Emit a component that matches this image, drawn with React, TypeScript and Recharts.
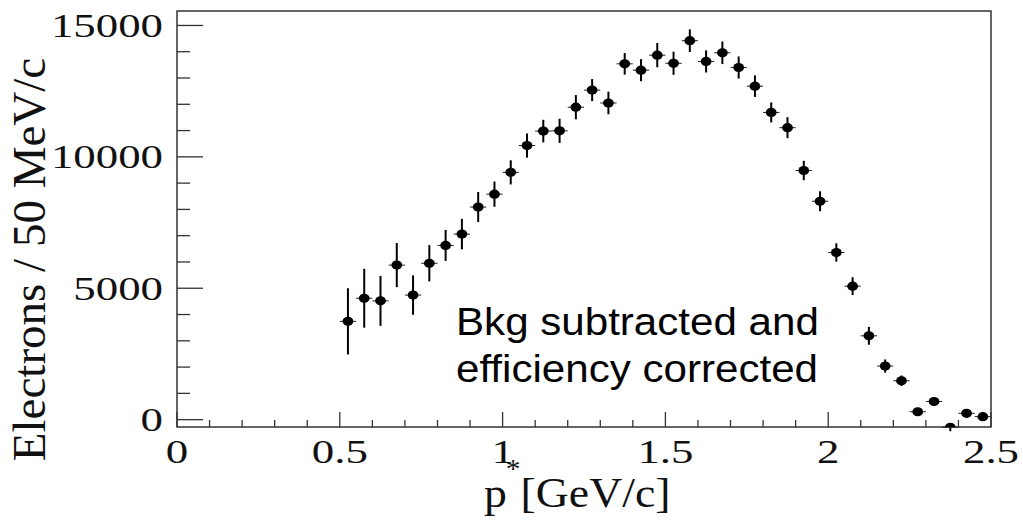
import { ScatterChart, Scatter, XAxis, YAxis, ErrorBar, ReferenceArea } from 'recharts';

// bin centres of p* (GeV/c), 50 MeV bins
const pCenters = [
  0.525, 0.575, 0.625, 0.675, 0.725, 0.775, 0.825, 0.875, 0.925, 0.975,
  1.025, 1.075, 1.125, 1.175, 1.225, 1.275, 1.325, 1.375, 1.425, 1.475,
  1.525, 1.575, 1.625, 1.675, 1.725, 1.775, 1.825, 1.875, 1.925, 1.975,
  2.025, 2.075, 2.125, 2.175, 2.225, 2.275, 2.325, 2.375, 2.425, 2.475,
];

const electrons = [
  3740, 4620, 4520, 5880, 4740, 5950, 6630, 7060, 8090, 8580,
  9410, 10430, 10980, 10990, 11890, 12540, 12050, 13540, 13300, 13870,
  13560, 14420, 13630, 13960, 13400, 12690, 11690, 11110, 9480, 8310,
  6360, 5080, 3190, 2040, 1480, 300, 690, -290, 240, 114,
];

const electronErrors = [
  1260, 1120, 950, 840, 750, 690, 590, 580, 570, 480,
  460, 460, 430, 460, 460, 420, 430, 410, 420, 460,
  440, 430, 420, 430, 420, 410, 380, 400, 370, 380,
  350, 340, 340, 250, 200, 150, 150, 150, 150, 150,
];

const binHalfWidth = 0.025;

const xTicks = [
  0, 0.1, 0.2, 0.3, 0.4, 0.5, 0.6, 0.7, 0.8, 0.9, 1, 1.1, 1.2, 1.3,
  1.4, 1.5, 1.6, 1.7, 1.8, 1.9, 2, 2.1, 2.2, 2.3, 2.4, 2.5,
];
const xMajor = [0, 0.5, 1, 1.5, 2, 2.5];

const yTicks = [
  0, 1000, 2000, 3000, 4000, 5000, 6000, 7000, 8000, 9000, 10000,
  11000, 12000, 13000, 14000, 15000,
];
const yMajor = [0, 5000, 10000, 15000];

const rows = pCenters.map((p, i) => ({
  p,
  n: electrons[i],
  ey: electronErrors[i],
  ex: binHalfWidth,
}));

const serif = 'Liberation Serif, Times New Roman, DejaVu Serif, serif';
const sans = 'Liberation Sans, Arial, sans-serif';
const frameColor = '#333';

const isMajor = (v: number, list: number[]) => list.some((m) => Math.abs(m - v) < 1e-6);

function XTick({ x, y, payload }: any) {
  const major = isMajor(payload.value, xMajor);
  return (
    <g>
      <line x1={x} x2={x} y1={y} y2={y - (major ? 15 : 7)} stroke={frameColor} strokeWidth={1.3} />
      {major && (
        <text
          transform={`translate(${x},${y + 35.5}) scale(1.3,1)`}
          textAnchor="middle"
          style={{ fontFamily: serif }}
          fontSize={34.5}
          fill="#111"
        >
          {payload.value}
        </text>
      )}
    </g>
  );
}

function YTick({ x, y, payload }: any) {
  const major = isMajor(payload.value, yMajor);
  return (
    <g>
      <line x1={x} x2={x + (major ? 26 : 13)} y1={y} y2={y} stroke={frameColor} strokeWidth={1.3} />
      {major && (
        <text
          transform={`translate(${x - 14},${y + 11.6}) scale(1.3,1)`}
          textAnchor="end"
          style={{ fontFamily: serif }}
          fontSize={34.5}
          fill="#111"
        >
          {payload.value}
        </text>
      )}
    </g>
  );
}

const Dot = (props: any) => (
  <ellipse cx={props.cx} cy={props.cy} rx={5.4} ry={4.6} fill="#000" />
);

export default function App() {
  return (
    <div style={{ position: 'absolute', left: 0, top: 0, width: 1023, height: 523, background: '#fff' }}>
      <ScatterChart width={1023} height={523} margin={{ top: 11, right: 32, bottom: 0, left: 0 }}>
        <XAxis
          type="number"
          dataKey="p"
          domain={[0, 2.5]}
          ticks={xTicks}
          interval={0}
          height={96}
          axisLine={false}
          tickLine={false}
          tickSize={0}
          tickMargin={0}
          tick={<XTick />}
          allowDataOverflow
        />
        <YAxis
          type="number"
          dataKey="n"
          domain={[-280, 15550]}
          ticks={yTicks}
          interval={0}
          width={177}
          axisLine={false}
          tickLine={false}
          tickSize={0}
          tickMargin={0}
          tick={<YTick />}
          allowDataOverflow
        />
        <ReferenceArea
          x1={0}
          x2={2.5}
          y1={-280}
          y2={15550}
          fill="none"
          fillOpacity={0}
          stroke={frameColor}
          strokeWidth={1.5}
          ifOverflow="visible"
        />
        <Scatter data={rows} shape={Dot} isAnimationActive={false}>
          <ErrorBar dataKey="ey" direction="y" width={0} stroke="#000" strokeWidth={2} />
          <ErrorBar dataKey="ex" direction="x" width={0} stroke="#222" strokeWidth={1} />
        </Scatter>
      </ScatterChart>

      <svg
        width={1023}
        height={523}
        style={{ position: 'absolute', left: 0, top: 0, pointerEvents: 'none' }}
      >
        {/* y title */}
        <text
          transform="translate(45,259.5) rotate(-90)"
          textAnchor="middle"
          style={{ fontFamily: serif }}
          fontSize={47}
          fill="#111"
        >
          Electrons / 50 MeV/c
        </text>

        {/* x title */}
        <text transform="translate(484,507) scale(1.09,1)" style={{ fontFamily: serif }} fontSize={42} fill="#111">
          <tspan>p</tspan>
          <tspan dx={-1} dy={-29} fontSize={27}>*</tspan>
          <tspan dy={29}>[GeV/c]</tspan>
        </text>

        {/* annotation */}
        <text transform="translate(456,335) scale(1.08,1)" style={{ fontFamily: sans }} fontSize={39} fill="#000">
          Bkg subtracted and
        </text>
        <text transform="translate(456,381.5) scale(1.08,1)" style={{ fontFamily: sans }} fontSize={39} fill="#000">
          efficiency corrected
        </text>
      </svg>
    </div>
  );
}
